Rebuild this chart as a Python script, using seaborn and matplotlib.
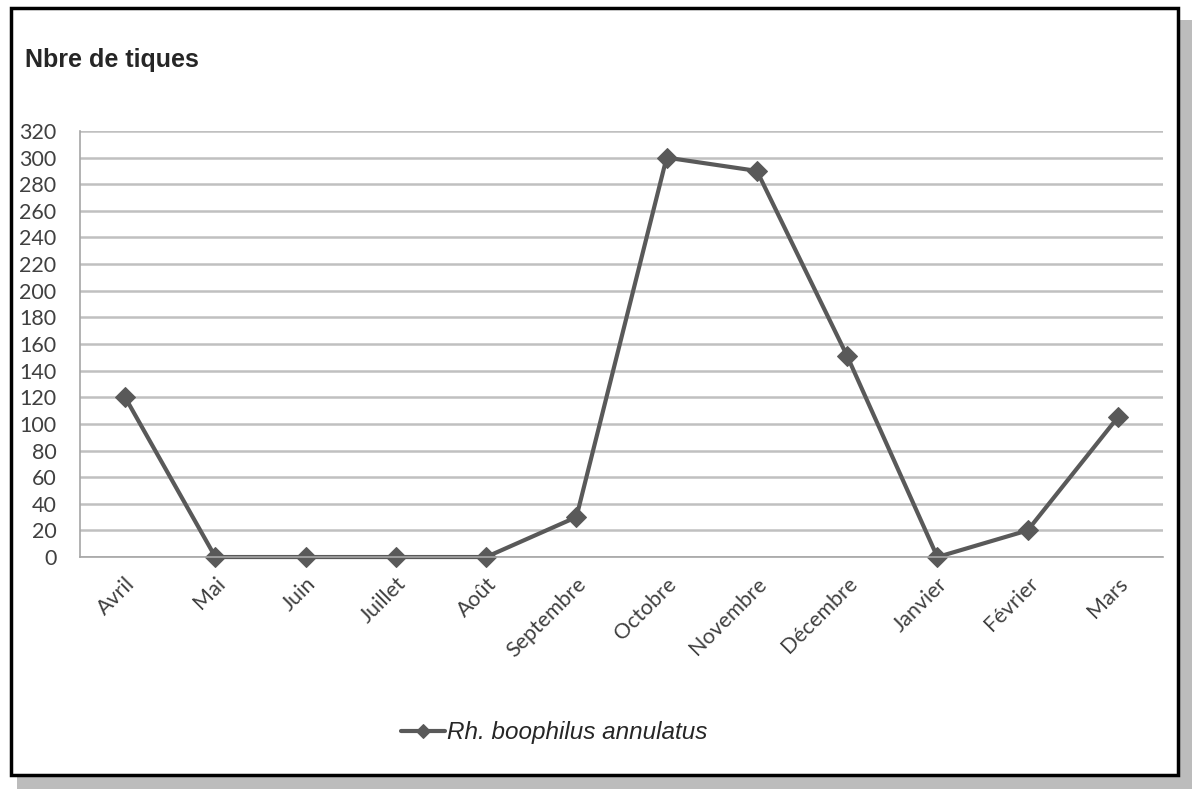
import pandas as pd
import seaborn as sns
import matplotlib.pyplot as plt
from matplotlib.patches import Rectangle

# Data
mois = ['Avril', 'Mai', 'Juin', 'Juillet', 'Août', 'Septembre', 'Octobre',
        'Novembre', 'Décembre', 'Janvier', 'Février', 'Mars']
nb_tiques = [120, 0, 0, 0, 0, 30, 300, 290, 151, 0, 20, 105]
espece = 'Rh. boophilus annulatus'
y_ticks = list(range(0, 321, 20))

df = pd.DataFrame({'Mois': mois, 'Nbre': nb_tiques, 'Espece': espece})

sns.set_style('white')
plt.rcParams['font.family'] = ['Lato', 'DejaVu Sans']

fig = plt.figure(figsize=(11.92, 7.89), dpi=100)

# Outer frame with shadow
fig.patches.append(Rectangle((0.014, 0.0), 0.988, 0.975, transform=fig.transFigure,
                             facecolor='#909090', edgecolor='none', alpha=0.6, zorder=-3))
fig.patches.append(Rectangle((0.009, 0.018), 0.979, 0.972, transform=fig.transFigure,
                             facecolor='white', edgecolor='black', linewidth=2.5, zorder=-2))

ax = fig.add_axes([0.0671, 0.294, 0.9086, 0.540])

sns.lineplot(data=df, x='Mois', y='Nbre', ax=ax, sort=False, color='#595959',
             linewidth=3, marker='D', markersize=10, markeredgecolor='#595959',
             label=espece, legend=False)
for line in ax.lines:
    line.set_clip_on(False)

ax.set_xlim(-0.5, len(mois) - 0.5)
ax.set_ylim(0, 320)
ax.set_yticks(y_ticks)
ax.set_yticklabels([str(v) for v in y_ticks], fontsize=15.5, color='#404040')
ax.set_xticks(range(len(mois)))
ax.set_xticklabels(mois, rotation=45, ha='right', rotation_mode='anchor',
                   fontsize=15.5, color='#404040')
ax.set_xticks([i - 0.5 for i in range(len(mois) + 1)], minor=True)
ax.tick_params(axis='x', which='major', length=0, pad=12)
ax.tick_params(axis='x', which='minor', length=7, color='#a6a6a6', width=1.2, direction='out')
ax.tick_params(axis='y', length=7, color='#a6a6a6', width=1.2, direction='out', pad=10)

ax.yaxis.grid(True, color='#c0c0c0', linewidth=1.8)
ax.set_axisbelow(True)
for side in ['top', 'right']:
    ax.spines[side].set_visible(False)
for side in ['left', 'bottom']:
    ax.spines[side].set_color('#a6a6a6')
    ax.spines[side].set_linewidth(1.2)
ax.set_xlabel('')
ax.set_ylabel('')

fig.text(0.021, 0.924, 'Nbre de tiques', fontsize=18, fontweight='bold',
         family='Liberation Sans', va='center')

handles, labels = ax.get_legend_handles_labels()
leg = fig.legend(handles, labels, loc='center', bbox_to_anchor=(0.465, 0.071),
                 frameon=False, handlelength=1.8, handletextpad=0.1,
                 prop={'family': 'Liberation Sans', 'style': 'italic', 'size': 17.5})
for line in leg.get_lines():
    line.set_markersize(7)
for t in leg.get_texts():
    t.set_color('#262626')

fig.savefig('out.png', dpi=100)
